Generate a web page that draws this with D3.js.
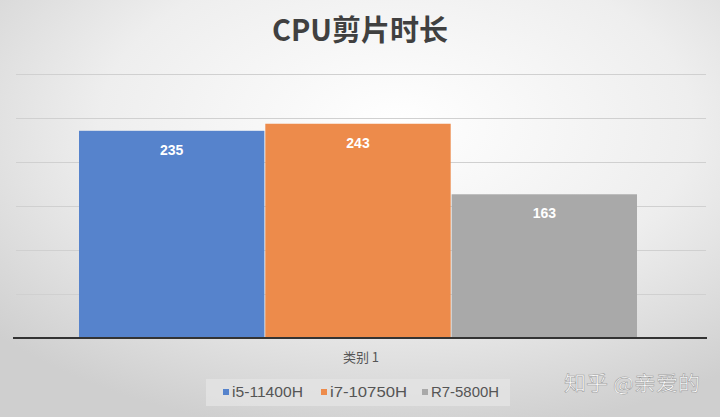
<!DOCTYPE html>
<html><head><meta charset="utf-8">
<script src="https://cdn.jsdelivr.net/npm/d3@7"></script>
<style>body{margin:0}svg{display:block}</style></head>
<body><svg id="c" width="720" height="417"></svg>
<script>
const categories = ["类别 1"];
const seriesNames = ["i5-11400H", "i7-10750H", "R7-5800H"];
const seriesValues = [235, 243, 163];
const colors = ["#5683cc", "#ed8b4b", "#a9a9a9"];
const yTicks = [0, 50, 100, 150, 200, 250, 300];

const svg = d3.select("#c");
const defs = svg.append("defs");
const g = defs.append("radialGradient").attr("id","bg").attr("cx","55%").attr("cy","30%").attr("r","75%");
g.append("stop").attr("offset","0%").attr("stop-color","#ffffff");
g.append("stop").attr("offset","55%").attr("stop-color","#eeeeee");
g.append("stop").attr("offset","100%").attr("stop-color","#cfcfcf");
svg.append("rect").attr("width",720).attr("height",417).attr("fill","url(#bg)");

const x0 = 16, x1 = 706;
const y = d3.scaleLinear().domain([0,300]).range([338,73.5]);
const band = d3.scaleBand().domain(categories).range([x0,x1]);
const inner = d3.scaleBand().domain(seriesNames).range([band(categories[0])+63, band(categories[0])+band.bandwidth()-69]).paddingInner(0.005);

svg.append("text").attr("x",360).attr("y",41).attr("text-anchor","middle")
  .attr("font-family","Noto Sans CJK SC").attr("font-size",29).attr("font-weight","bold").attr("fill","#404040").text("CPU剪片时长");

svg.selectAll(".grid").data(yTicks.slice(1)).enter().append("line")
  .attr("x1",x0).attr("x2",x1).attr("y1",d=>Math.round(y(d))+0.5).attr("y2",d=>Math.round(y(d))+0.5)
  .attr("stroke","#d0d0d0").attr("stroke-width",1);

svg.selectAll(".bar").data(seriesValues).enter().append("rect")
  .attr("x",(d,i)=>inner(seriesNames[i])).attr("width",inner.bandwidth())
  .attr("y",d=>y(d)).attr("height",d=>y(0)-y(d)).attr("fill",(d,i)=>colors[i]);

svg.selectAll(".lbl").data(seriesValues).enter().append("text")
  .attr("x",(d,i)=>inner(seriesNames[i])+inner.bandwidth()/2).attr("y",d=>y(d)+24)
  .attr("text-anchor","middle").attr("font-family","Liberation Sans, Arial").attr("font-weight","bold")
  .attr("font-size",14).attr("fill","#fff").text(d=>d);

svg.append("line").attr("x1",13).attr("x2",707).attr("y1",338).attr("y2",338).attr("stroke","#333").attr("stroke-width",2);

svg.append("text").attr("x",band(categories[0])+band.bandwidth()/2).attr("y",362).attr("text-anchor","middle")
  .attr("font-family","Noto Sans CJK SC").attr("font-size",13).attr("fill","#555").text(categories[0]);

svg.append("rect").attr("x",206).attr("y",379).attr("width",304).attr("height",27).attr("fill","#e4e4e4").attr("opacity",0.8);
const lx = [223, 321, 422];
const lw = [71, 77, 68];
seriesNames.forEach((n,i)=>{
  svg.append("rect").attr("x",lx[i]).attr("y",389).attr("width",6).attr("height",6).attr("fill",colors[i]);
  svg.append("text").attr("x",lx[i]+9).attr("y",397).attr("font-family","Liberation Sans, Arial")
    .attr("font-size",15).attr("fill","#555").attr("textLength",lw[i]).attr("lengthAdjust","spacingAndGlyphs").text(n);
});

svg.append("text").attr("x",564).attr("y",391).attr("font-family","Noto Sans CJK SC")
  .attr("font-size",20).attr("fill","#fff").attr("stroke","#999").attr("stroke-width",0.5)
  .attr("textLength",136).attr("lengthAdjust","spacingAndGlyphs").text("知乎 @亲爱的");
</script></body></html>
